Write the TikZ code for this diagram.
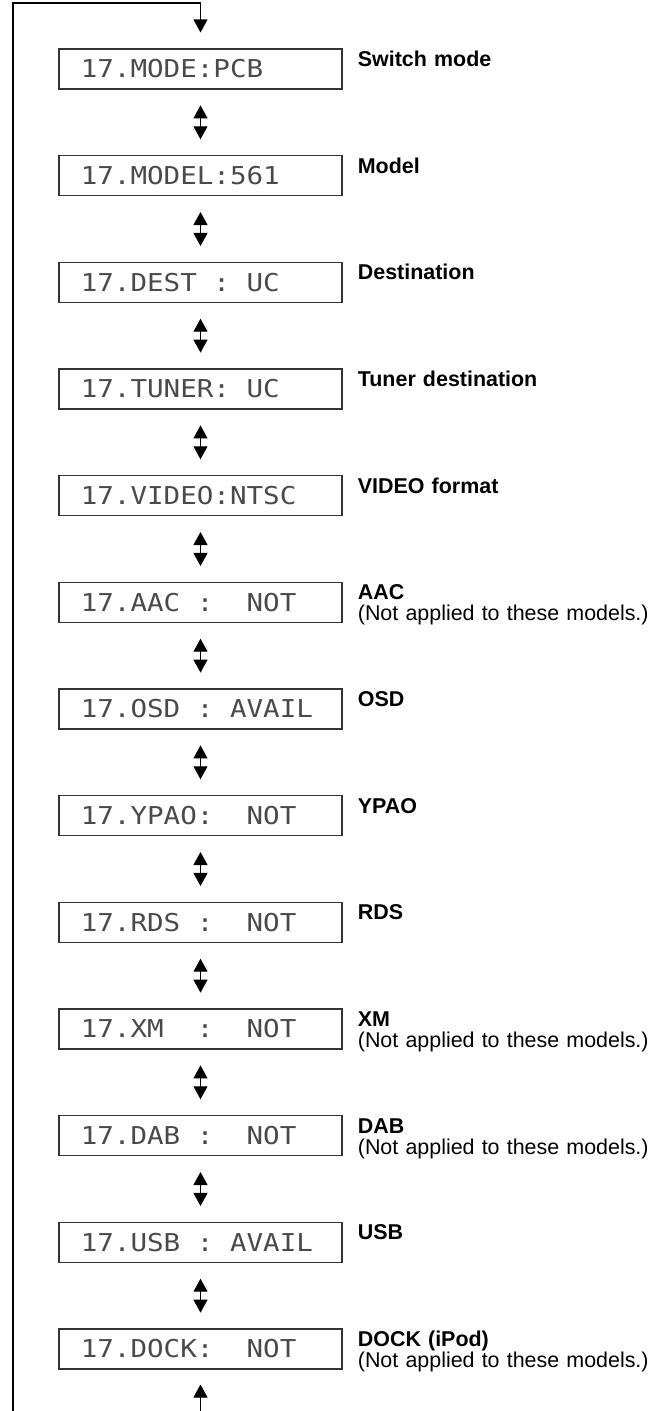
\documentclass[tikz,border=0pt]{standalone}
\usepackage{fontspec}
\setmainfont{Liberation Sans}
\newfontfamily\lcdfont[FakeStretch=1.12]{DejaVu Sans Mono}
\newcommand\lcdsp{\hphantom{0}}
\usepackage{tikz}
\usetikzlibrary{arrows.meta}
\definecolor{LcdInk}{HTML}{4A4A4A}
\definecolor{LcdFrame}{HTML}{333333}
\tikzset{
  lcd box/.style={
    draw=LcdFrame,
    line width=0.6pt,
    minimum height=0.8cm,
    text width=4.79cm,
    align=left,
    inner xsep=0.435cm,
    inner ysep=0pt,
    text=LcdInk,
    font=\lcdfont\fontsize{14pt}{14pt}\selectfont\frenchspacing
  },
  lcd label/.style={
    anchor=base west,
    text width=6cm,
    align=left,
    inner sep=0pt,
    font=\fontsize{12.2pt}{12pt}\selectfont
  },
  lcd step/.style={
    {Triangle[length=2.6mm,width=2.8mm]}-{Triangle[length=2.6mm,width=2.8mm]},
    line width=0.6pt,
    shorten >=3.17mm,
    shorten <=3.17mm
  },
  lcd loop/.style={
    -{Triangle[length=2.6mm,width=2.8mm]},
    line width=0.6pt
  }
}

\begin{document}
\begin{tikzpicture}[x=1cm,y=1cm]
  \useasboundingbox (0,0) rectangle (13.12,-28.22);

  \node[lcd box] (a) at (4.01,-1.38) {17.MODE:PCB};
  \node[lcd box] (b) at (4.01,-3.513) {17.MODEL:561};
  \node[lcd box] (c) at (4.01,-5.647) {17.DEST\lcdsp:\lcdsp UC};
  \node[lcd box] (d) at (4.01,-7.78) {17.TUNER:\lcdsp UC};
  \node[lcd box] (e) at (4.01,-9.913) {17.VIDEO:NTSC};
  \node[lcd box] (f) at (4.01,-12.047) {17.AAC\lcdsp:\lcdsp\lcdsp NOT};
  \node[lcd box] (g) at (4.01,-14.18) {17.OSD\lcdsp:\lcdsp AVAIL};
  \node[lcd box] (h) at (4.01,-16.313) {17.YPAO:\lcdsp\lcdsp NOT};
  \node[lcd box] (i) at (4.01,-18.447) {17.RDS\lcdsp:\lcdsp\lcdsp NOT};
  \node[lcd box] (j) at (4.01,-20.58) {17.XM\lcdsp\lcdsp:\lcdsp\lcdsp NOT};
  \node[lcd box] (k) at (4.01,-22.713) {17.DAB\lcdsp:\lcdsp\lcdsp NOT};
  \node[lcd box] (l) at (4.01,-24.847) {17.USB\lcdsp:\lcdsp AVAIL};
  \node[lcd box] (m) at (4.01,-26.98) {17.DOCK:\lcdsp\lcdsp NOT};

  \node[lcd label] (ta) at ([xshift=3mm,yshift=-3.6mm]a.north east) {\textbf{Switch mode}};
  \node[lcd label] (tb) at ([xshift=3mm,yshift=-3.6mm]b.north east) {\textbf{Model}};
  \node[lcd label] (tc) at ([xshift=3mm,yshift=-3.6mm]c.north east) {\textbf{Destination}};
  \node[lcd label] (td) at ([xshift=3mm,yshift=-3.6mm]d.north east) {\textbf{Tuner destination}};
  \node[lcd label] (te) at ([xshift=3mm,yshift=-3.6mm]e.north east) {\textbf{VIDEO format}};
  \node[lcd label] (tf) at ([xshift=3mm,yshift=-3.6mm]f.north east) {\textbf{AAC}\\ (Not applied to these models.)};
  \node[lcd label] (tg) at ([xshift=3mm,yshift=-3.6mm]g.north east) {\textbf{OSD}};
  \node[lcd label] (th) at ([xshift=3mm,yshift=-3.6mm]h.north east) {\textbf{YPAO}};
  \node[lcd label] (ti) at ([xshift=3mm,yshift=-3.6mm]i.north east) {\textbf{RDS}};
  \node[lcd label] (tj) at ([xshift=3mm,yshift=-3.6mm]j.north east) {\textbf{XM}\\ (Not applied to these models.)};
  \node[lcd label] (tk) at ([xshift=3mm,yshift=-3.6mm]k.north east) {\textbf{DAB}\\ (Not applied to these models.)};
  \node[lcd label] (tl) at ([xshift=3mm,yshift=-3.6mm]l.north east) {\textbf{USB}};
  \node[lcd label] (tm) at ([xshift=3mm,yshift=-3.6mm]m.north east) {\textbf{DOCK (iPod)}\\ (Not applied to these models.)};

  % scrolling order
  \draw[lcd step] (a.south) -- (b.north);
  \draw[lcd step] (b.south) -- (c.north);
  \draw[lcd step] (c.south) -- (d.north);
  \draw[lcd step] (d.south) -- (e.north);
  \draw[lcd step] (e.south) -- (f.north);
  \draw[lcd step] (f.south) -- (g.north);
  \draw[lcd step] (g.south) -- (h.north);
  \draw[lcd step] (h.south) -- (i.north);
  \draw[lcd step] (i.south) -- (j.north);
  \draw[lcd step] (j.south) -- (k.north);
  \draw[lcd step] (k.south) -- (l.north);
  \draw[lcd step] (l.south) -- (m.north);

  % wrap-around
  \coordinate (loopfoot) at (0.26,-28.22);
  \coordinate (looptop) at (0.26,-0.06);
  \coordinate (dockfoot) at (4.01,-28.22);
  \draw[lcd loop,shorten >=3.2mm] (loopfoot) -- (looptop) -| (a.north);
  \draw[lcd loop,shorten >=3mm] (dockfoot) -- (m.south);
\end{tikzpicture}
\end{document}
